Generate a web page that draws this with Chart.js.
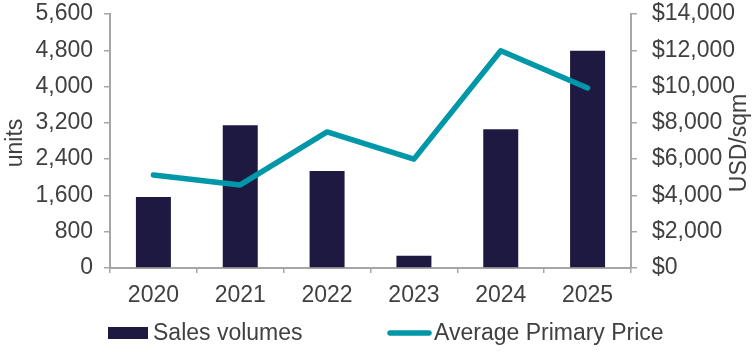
<!DOCTYPE html>
<html>
<head>
<meta charset="utf-8">
<script src="https://cdn.jsdelivr.net/npm/chart.js@4/dist/chart.umd.min.js"></script>
<style>
  html, body { margin: 0; padding: 0; background: #ffffff; }
  #wrap { width: 753px; height: 361px; position: relative; overflow: hidden; }
</style>
</head>
<body>
<div id="wrap"><canvas id="c" width="753" height="361"></canvas></div>
<script>
// ---- data ----
const years = ["2020", "2021", "2022", "2023", "2024", "2025"];
const salesVolumes = [1565, 3150, 2140, 270, 3060, 4790];
const avgPrimaryPrice = [5130, 4580, 7500, 6000, 11970, 9920];
const unitsTicks = [0, 800, 1600, 2400, 3200, 4000, 4800, 5600];
const priceTicks = [0, 2000, 4000, 6000, 8000, 10000, 12000, 14000];
const seriesNames = ["Sales volumes", "Average Primary Price"];
const axisTitles = ["units", "USD/sqm"];

// ---- styles ----
const FONT = "'Liberation Sans', Arial, sans-serif";
const FS = 23;
const TEXT = "#404040";
const AXIS = "#A6A6A6";
const BAR = "#1E1941";
const LINE = "#0097A9";

const fmt = v => Number(v).toLocaleString('en-US');

const titlesAndLegend = {
  id: 'titlesAndLegend',
  afterDraw(chart) {
    const ctx = chart.ctx;
    const barDs = chart.data.datasets.find(d => d.type === 'bar');
    const lineDs = chart.data.datasets.find(d => d.type === 'line');
    ctx.save();
    ctx.fillStyle = TEXT;
    ctx.font = FS + "px " + FONT;
    ctx.textAlign = 'center';
    ctx.textBaseline = 'alphabetic';
    // left title (reads bottom-to-top)
    ctx.save();
    ctx.translate(22, 143);
    ctx.rotate(-Math.PI / 2);
    ctx.fillText(axisTitles[0], 0, 0);
    ctx.restore();
    // right title (reads bottom-to-top)
    ctx.save();
    ctx.translate(745.5, 143);
    ctx.rotate(-Math.PI / 2);
    ctx.fillText(axisTitles[1], 0, 0);
    ctx.restore();
    // legend
    const ly = 333;
    ctx.textAlign = 'left';
    ctx.textBaseline = 'middle';
    ctx.fillStyle = barDs.backgroundColor;
    ctx.fillRect(108, ly - 6, 40, 12);
    ctx.fillStyle = TEXT;
    ctx.fillText(barDs.label, 153, ly + 1);
    ctx.strokeStyle = lineDs.borderColor;
    ctx.lineWidth = 5.5;
    ctx.lineCap = 'round';
    ctx.beginPath();
    ctx.moveTo(390, ly);
    ctx.lineTo(429, ly);
    ctx.stroke();
    ctx.fillText(lineDs.label, 434, ly + 1);
    ctx.restore();
  }
};

new Chart(document.getElementById('c'), {
  type: 'bar',
  data: {
    labels: years,
    datasets: [
      {
        type: 'line',
        label: seriesNames[1],
        data: avgPrimaryPrice,
        yAxisID: 'y2',
        borderColor: LINE,
        backgroundColor: LINE,
        borderWidth: 5.5,
        borderCapStyle: 'round',
        borderJoinStyle: 'round',
        pointRadius: 0,
        pointHoverRadius: 0,
        tension: 0,
        order: 0
      },
      {
        type: 'bar',
        label: seriesNames[0],
        data: salesVolumes,
        yAxisID: 'y',
        backgroundColor: BAR,
        borderWidth: 0,
        categoryPercentage: 1.0,
        barPercentage: 0.403,
        order: 1
      }
    ]
  },
  options: {
    responsive: false,
    animation: false,
    devicePixelRatio: 1,
    layout: { padding: { left: 0, right: 0, top: 14, bottom: 50 } },
    plugins: {
      legend: { display: false },
      tooltip: { enabled: false },
      title: { display: false }
    },
    scales: {
      x: {
        offset: true,
        grid: { display: true, drawOnChartArea: false, drawTicks: true, tickLength: 5, color: AXIS, lineWidth: 1.5, offset: true },
        border: { display: true, color: AXIS, width: 2 },
        ticks: { color: TEXT, font: { family: FONT, size: FS }, padding: 9, maxRotation: 0 },
        afterFit(s) { s.height = 43; s.paddingLeft = 0; s.paddingRight = 0; }
      },
      y: {
        position: 'left',
        min: 0, max: 5600,
        afterBuildTicks(s) { s.ticks = unitsTicks.map(v => ({ value: v })); },
        grid: { display: true, drawOnChartArea: false, drawTicks: true, tickLength: 6, color: AXIS, lineWidth: 1.5 },
        border: { display: true, color: AXIS, width: 2 },
        ticks: { color: TEXT, font: { family: FONT, size: FS }, padding: 11, callback: v => fmt(v) },
        afterFit(s) { s.width = 110; s.paddingTop = 0; s.paddingBottom = 0; }
      },
      y2: {
        position: 'right',
        min: 0, max: 14000,
        afterBuildTicks(s) { s.ticks = priceTicks.map(v => ({ value: v })); },
        grid: { display: true, drawOnChartArea: false, drawTicks: true, tickLength: 6, color: AXIS, lineWidth: 1.5 },
        border: { display: true, color: AXIS, width: 2 },
        ticks: { color: TEXT, font: { family: FONT, size: FS }, padding: 15, callback: v => '$' + fmt(v) },
        afterFit(s) { s.width = 753 - 631; s.paddingTop = 0; s.paddingBottom = 0; }
      }
    }
  },
  plugins: [titlesAndLegend]
});
</script>
</body>
</html>
